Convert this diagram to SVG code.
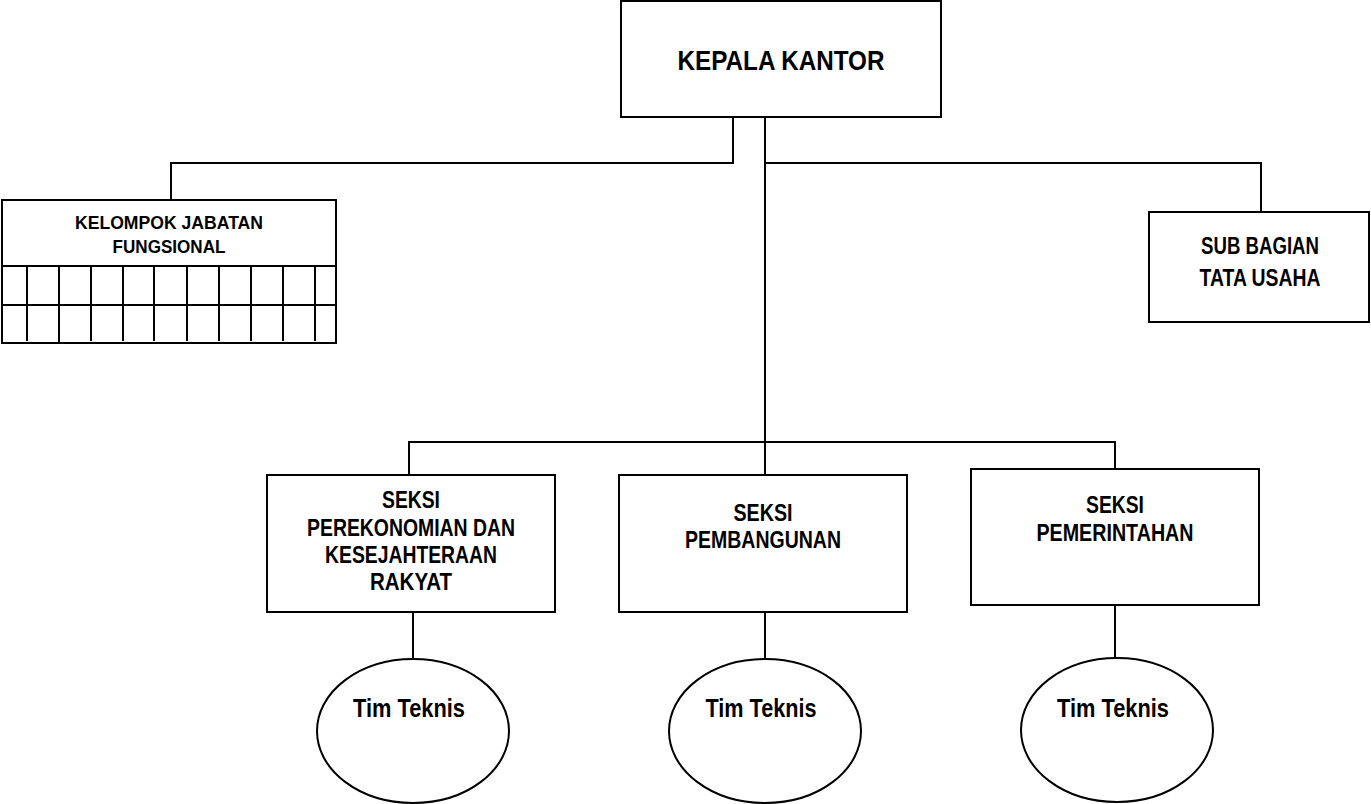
<svg xmlns="http://www.w3.org/2000/svg" width="1371" height="804" viewBox="0 0 1371 804">
<style>
.box{fill:#fff;stroke:#000;stroke-width:2}
.ln{fill:none;stroke:#000;stroke-width:2}
text{font-family:"Liberation Sans",Arial,sans-serif;font-weight:bold;text-anchor:middle;fill:#000}
</style>
<rect width="1371" height="804" fill="#fff"/>
<g id="connectors" class="ln">
<path d="M733 117V163H171V200"/>
<path d="M765 117V475"/>
<path d="M765 163H1261V212"/>
<path d="M409 475V442H1115V469"/>
<path d="M413 612V659"/>
<path d="M765 612V659"/>
<path d="M1115 605V657"/>
</g>
<g id="kepala">
<rect class="box" x="621" y="1" width="320" height="116"/>
<text x="781" y="70" font-size="28" textLength="207" lengthAdjust="spacingAndGlyphs">KEPALA KANTOR</text>
</g>
<g id="kelompok">
<rect class="box" x="2" y="200" width="334" height="143"/>
<path class="ln" d="M2 266H336M2 305H336M27 266V341M59 266V343M91 266V341M123 266V341M154 266V341M187 266V341M219 266V341M251 266V341M283 266V341M315 266V341"/>
<text x="169" y="229" font-size="19" textLength="188" lengthAdjust="spacingAndGlyphs">KELOMPOK JABATAN</text>
<text x="169" y="253" font-size="19" textLength="113" lengthAdjust="spacingAndGlyphs">FUNGSIONAL</text>
</g>
<g id="subbagian">
<rect class="box" x="1149" y="212" width="220" height="110"/>
<text x="1260" y="254" font-size="23" textLength="118" lengthAdjust="spacingAndGlyphs">SUB BAGIAN</text>
<text x="1260" y="286" font-size="23" textLength="121" lengthAdjust="spacingAndGlyphs">TATA USAHA</text>
</g>
<g id="seksi1">
<rect class="box" x="267" y="475" width="288" height="137"/>
<text x="411" y="508" font-size="23" textLength="58" lengthAdjust="spacingAndGlyphs">SEKSI</text>
<text x="411" y="536" font-size="23" textLength="208" lengthAdjust="spacingAndGlyphs">PEREKONOMIAN DAN</text>
<text x="411" y="563" font-size="23" textLength="172" lengthAdjust="spacingAndGlyphs">KESEJAHTERAAN</text>
<text x="411" y="590" font-size="23" textLength="82" lengthAdjust="spacingAndGlyphs">RAKYAT</text>
</g>
<g id="seksi2">
<rect class="box" x="619" y="475" width="288" height="137"/>
<text x="763" y="521" font-size="23" textLength="59" lengthAdjust="spacingAndGlyphs">SEKSI</text>
<text x="763" y="548" font-size="23" textLength="156" lengthAdjust="spacingAndGlyphs">PEMBANGUNAN</text>
</g>
<g id="seksi3">
<rect class="box" x="971" y="469" width="288" height="136"/>
<text x="1115" y="513" font-size="23" textLength="58" lengthAdjust="spacingAndGlyphs">SEKSI</text>
<text x="1115" y="541" font-size="23" textLength="157" lengthAdjust="spacingAndGlyphs">PEMERINTAHAN</text>
</g>
<g id="tim1">
<ellipse class="box" cx="413" cy="731" rx="96" ry="72"/>
<text x="409" y="717" font-size="25" textLength="112" lengthAdjust="spacingAndGlyphs">Tim Teknis</text>
</g>
<g id="tim2">
<ellipse class="box" cx="765" cy="731" rx="96" ry="72"/>
<text x="761" y="717" font-size="25" textLength="111" lengthAdjust="spacingAndGlyphs">Tim Teknis</text>
</g>
<g id="tim3">
<ellipse class="box" cx="1117" cy="730" rx="96" ry="72"/>
<text x="1113" y="717" font-size="25" textLength="112" lengthAdjust="spacingAndGlyphs">Tim Teknis</text>
</g>
</svg>
